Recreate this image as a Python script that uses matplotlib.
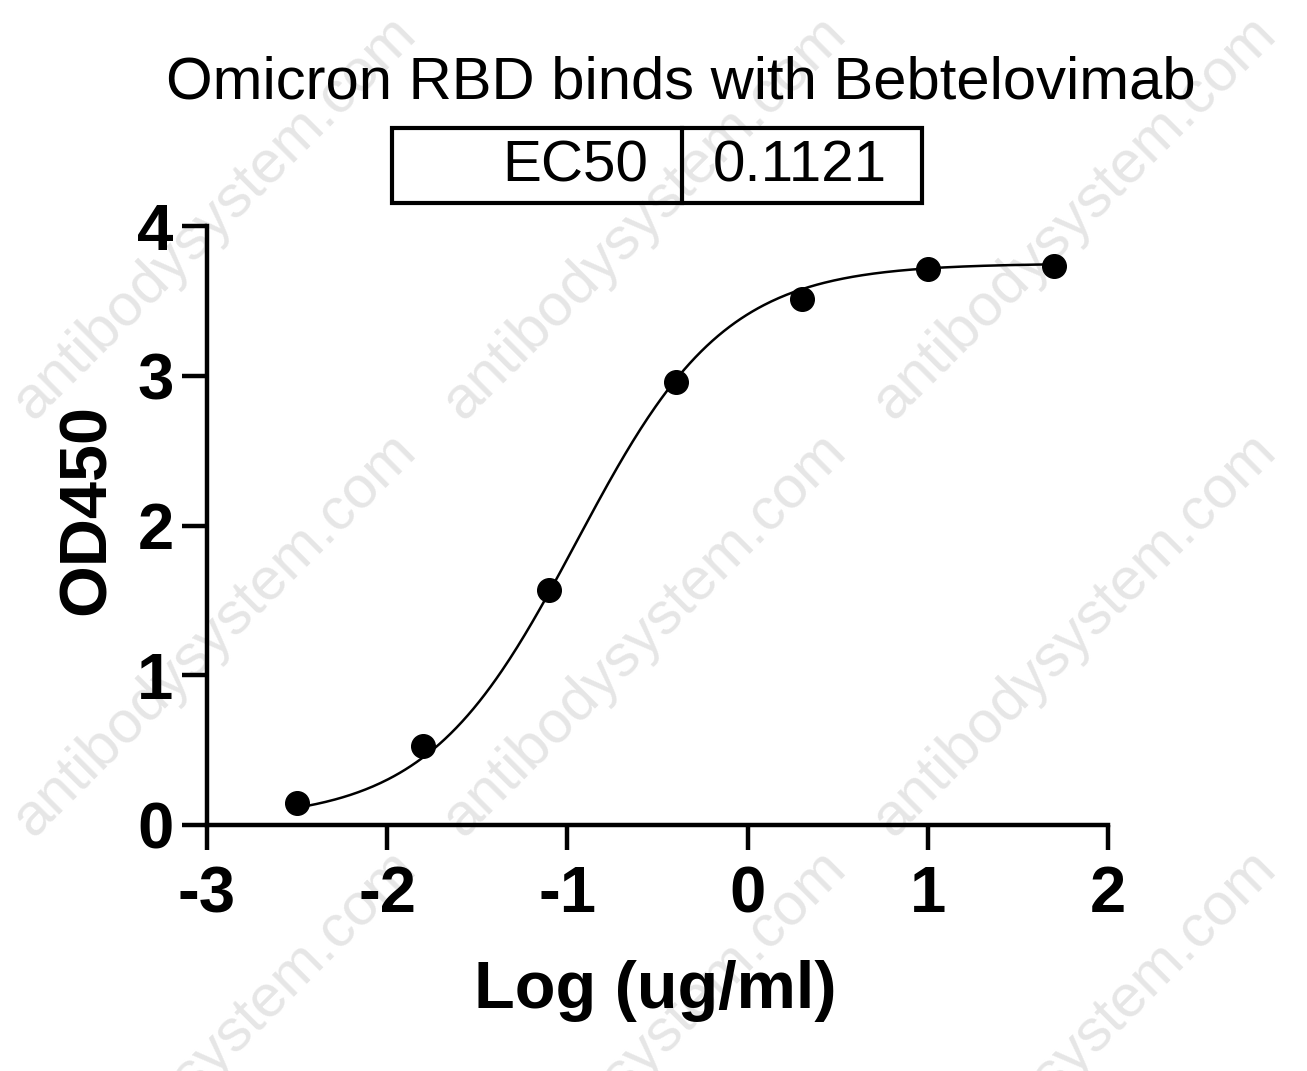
import numpy as np
import matplotlib
matplotlib.use("Agg")
import matplotlib.pyplot as plt
from matplotlib.patches import Rectangle

plt.rcParams['font.family'] = ['Liberation Sans', 'DejaVu Sans']

# data
log_conc = [-2.5, -1.8, -1.1, -0.4, 0.3, 1.0, 1.7]
od450 = [0.147, 0.528, 1.569, 2.958, 3.512, 3.713, 3.733]
# 4PL fit parameters
fit_bottom = 0.03
fit_top = 3.75
fit_logec50 = -0.95
fit_hill = 1.05
ec50_label = "EC50"
ec50_value = "0.1121"
title = "Omicron RBD binds with Bebtelovimab"
xticks = [-3, -2, -1, 0, 1, 2]
yticks = [0, 1, 2, 3, 4]

W, H = 1307, 1071
fig = plt.figure(figsize=(W/100, H/100), dpi=100)

# watermark
for cx in [215, 645, 1075]:
    for cy in [218, 635, 1052]:
        fig.text(cx/W, 1-cy/H, "antibodysystem.com", rotation=45, fontsize=43,
                 color='#e6e6e6', ha='center', va='center', rotation_mode='anchor', zorder=-10)

ax = fig.add_axes([207/W, 1-825/H, (1108-207)/W, (825-226)/H])
ax.patch.set_alpha(0)
ax.set_xlim(-3, 2)
ax.set_ylim(0, 4)

xs = np.linspace(min(log_conc), max(log_conc), 400)
ys = fit_bottom + (fit_top-fit_bottom)/(1+10**((fit_logec50-xs)*fit_hill))
ax.plot(xs, ys, color='black', lw=1.8, zorder=3)
ax.plot(log_conc, od450, 'o', color='black', ms=17, zorder=4, clip_on=False)

for s in ['top', 'right']:
    ax.spines[s].set_visible(False)
for s in ['left', 'bottom']:
    ax.spines[s].set_linewidth(3.2)
ax.set_xticks(xticks)
ax.set_yticks(yticks)
ax.set_xticklabels([str(t) for t in xticks])
ax.set_yticklabels([str(t) for t in yticks])
ax.tick_params(axis='both', direction='out', length=18, width=3.2, labelsize=47)
ax.tick_params(axis='x', pad=11)
ax.tick_params(axis='y', pad=6)
for lab in ax.get_xticklabels() + ax.get_yticklabels():
    lab.set_fontweight('bold')

ax.set_xlabel("Log (ug/ml)", fontsize=48, fontweight='bold')
ax.set_ylabel("OD450", fontsize=48, fontweight='bold')
ax.xaxis.set_label_coords(0.498, -0.226)
ax.yaxis.set_label_coords(-0.098, 0.526)

fig.text(681/W, 1-83/H, title, fontsize=43, ha='center', va='center')

# EC50 table
fig.patches.append(Rectangle((392/W, 1-203/H), (922-392)/W, (203-128)/H, transform=fig.transFigure,
                             fill=False, lw=3, edgecolor='black'))
fig.lines.append(plt.Line2D([682/W, 682/W], [1-203/H, 1-128/H], transform=fig.transFigure, lw=3, color='black'))
fig.text(648/W, 1-166/H, ec50_label, fontsize=42, ha='right', va='center')
fig.text(713/W, 1-166/H, ec50_value, fontsize=42, ha='left', va='center')

fig.savefig("out.png", dpi=100)
